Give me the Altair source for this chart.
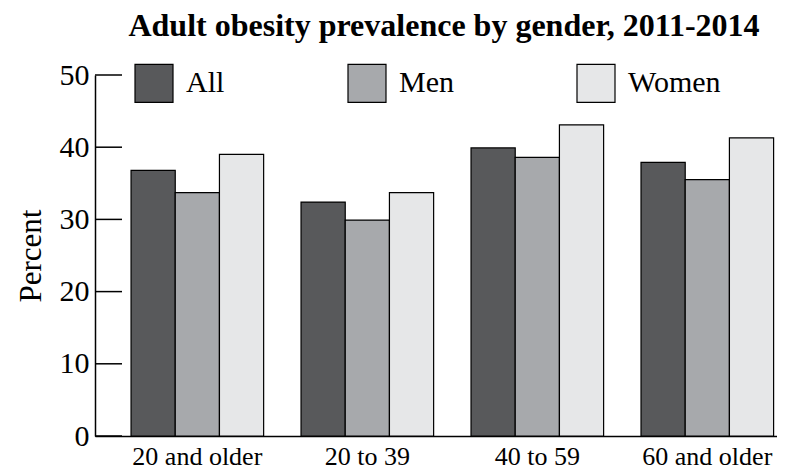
import altair as alt
import pandas as pd

groups = ["20 and older", "20 to 39", "40 to 59", "60 and older"]
genders = ["All", "Men", "Women"]
all_vals = [36.8, 32.4, 39.9, 37.9]
men_vals = [33.7, 29.9, 38.6, 35.5]
women_vals = [39.0, 33.7, 43.1, 41.3]
colors = ["#58595b", "#a7a9ac", "#e6e7e8"]
tick_values = [0, 10, 20, 30, 40, 50]

rows = []
for g, a, m, w in zip(groups, all_vals, men_vals, women_vals):
    rows.append({"group": g, "gender": "All", "value": a})
    rows.append({"group": g, "gender": "Men", "value": m})
    rows.append({"group": g, "gender": "Women", "value": w})
df = pd.DataFrame(rows)
ticks_df = pd.DataFrame({"t": tick_values})

FONT = "Liberation Serif"

yscale = alt.Scale(domain=[0, 50], nice=False)
yaxis = alt.Axis(values=tick_values, ticks=False, grid=False, title="Percent",
                 domainColor="black", domainWidth=1.5,
                 labelFont=FONT, labelFontSize=30, labelColor="black",
                 labelPadding=6, titleFont=FONT, titleFontSize=31,
                 titleFontWeight="normal", titleColor="black", titlePadding=12)

bars = alt.Chart(df).mark_bar(stroke="black", strokeWidth=1.2).encode(
    x=alt.X("group:N", sort=groups,
            scale=alt.Scale(paddingInner=0.22, paddingOuter=0.116, align=0.914),
            axis=alt.Axis(title=None, ticks=False, grid=False, domainColor="black", domainWidth=1.5,
                          labelFont=FONT, labelFontSize=26, labelColor="black",
                          labelBaseline="alphabetic", labelPadding=28, labelAngle=0)),
    xOffset=alt.XOffset("gender:N", sort=genders),
    y=alt.Y("value:Q", scale=yscale, axis=yaxis),
    color=alt.Color("gender:N", sort=genders,
                    scale=alt.Scale(domain=genders, range=colors),
                    legend=alt.Legend(title=None, orient="none", legendX=39, legendY=-12,
                                      direction="horizontal", columns=3,
                                      symbolType="square", symbolSize=1444,
                                      symbolStrokeColor="black", symbolStrokeWidth=1.2,
                                      symbolOpacity=1,
                                      labelFont=FONT, labelFontSize=30, labelColor="black",
                                      labelOffset=12, columnPadding=120, padding=0)),
)

tick_rules = alt.Chart(ticks_df).mark_rule(color="black", strokeWidth=1.5).encode(
    y=alt.Y("t:Q", scale=yscale, axis=yaxis),
    x=alt.value(0),
    x2=alt.value(27),
)

chart = alt.layer(bars, tick_rules).properties(
    width=682,
    height=361,
    background="white",
    title=alt.TitleParams("Adult obesity prevalence by gender, 2011-2014",
                          font=FONT, fontSize=32, fontWeight="bold", color="black",
                          anchor="middle", frame="group", offset=17, dx=8),
    autosize=alt.AutoSizeParams(type="none"),
    padding={"left": 87, "top": 67, "right": 0, "bottom": 36},
).configure_view(strokeWidth=0, stroke="transparent").configure_axis(grid=False)

chart.save("out.html", embed_options={"renderer": "svg", "actions": False})
